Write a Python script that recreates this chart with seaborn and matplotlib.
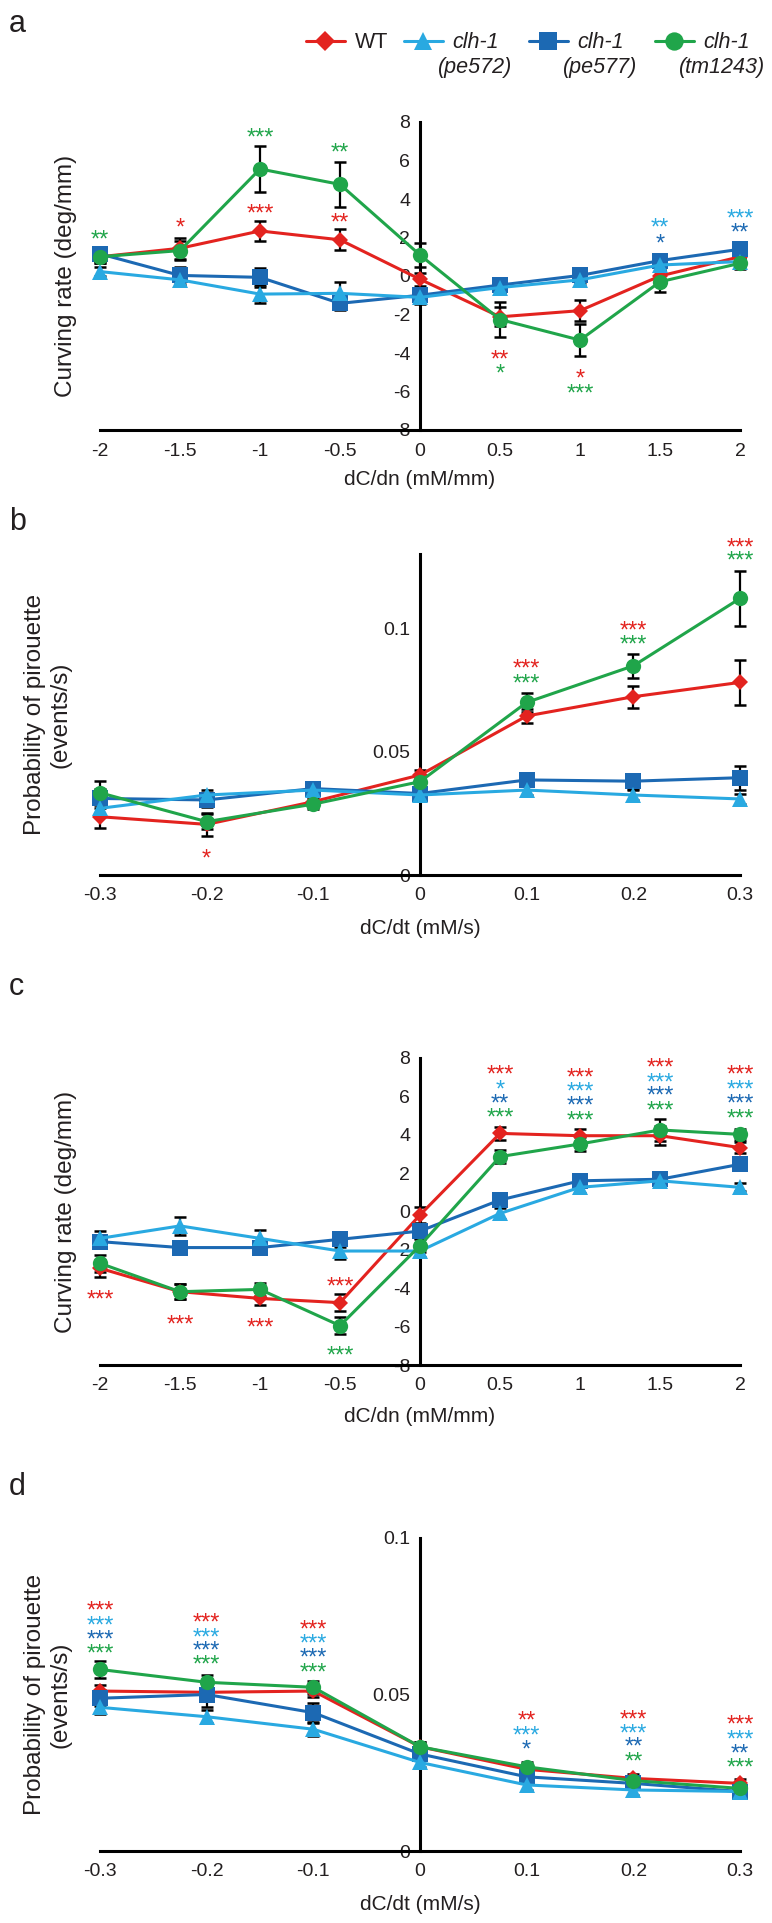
import numpy as np
import pandas as pd
import seaborn as sns
import matplotlib.pyplot as plt

strains = ["WT", "clh-1 (pe572)", "clh-1 (pe577)", "clh-1 (tm1243)"]
colors = ["#E3231F", "#29A9E1", "#1C69B3", "#20A54A"]
markers = ["D", "^", "s", "o"]

dcdn = [-2, -1.5, -1, -0.5, 0, 0.5, 1, 1.5, 2]
dcdn_labels = ["-2", "-1.5", "-1", "-0.5", "0", "0.5", "1", "1.5", "2"]
dcdt = [-0.3, -0.2, -0.1, 0, 0.1, 0.2, 0.3]
dcdt_labels = ["-0.3", "-0.2", "-0.1", "0", "0.1", "0.2", "0.3"]
curv_ticks = [-8, -6, -4, -2, 0, 2, 4, 6, 8]
curv_labels = ["-8", "-6", "-4", "-2", "0", "2", "4", "6", "8"]
prob_ticks = [0, 0.05, 0.1]
prob_labels = ["0", "0.05", "0.1"]

# panel a: curving rate vs dC/dn
a_wt = [1.0, 1.44, 2.34, 1.88, -0.17, -2.12, -1.8, 0.0, 1.0]
a_pe572 = [0.23, -0.2, -0.94, -0.9, -1.11, -0.6, -0.2, 0.57, 0.75]
a_pe577 = [1.15, 0.03, -0.07, -1.42, -1.0, -0.47, 0.03, 0.8, 1.39]
a_tm = [1.0, 1.32, 5.56, 4.76, 1.09, -2.26, -3.33, -0.3, 0.66]
a_wt_err = [0.3, 0.55, 0.5, 0.55, 0.35, 0.5, 0.55, 0.35, 0.3]
a_pe572_err = [0.25, 0.3, 0.45, 0.6, 0.35, 0.3, 0.3, 0.3, 0.2]
a_pe577_err = [0.35, 0.45, 0.5, 0.35, 0.35, 0.35, 0.4, 0.35, 0.3]
a_tm_err = [0.3, 0.5, 1.2, 1.16, 0.6, 0.9, 0.85, 0.55, 0.3]
a_star_x = [-2, -1.5, -1, -1, -0.5, -0.5, 0.5, 0.5, 1, 1, 1.5, 1.5, 2, 2]
a_star_y = [2.24, 2.83, 7.55, 3.58, 6.74, 3.13, -3.99, -4.72, -4.98, -5.76, 2.83, 2.05, 3.32, 2.57]
a_star_txt = ["**", "*", "***", "***", "**", "**", "**", "*", "*", "***", "**", "*", "***", "**"]
a_star_col = [3, 0, 3, 0, 3, 0, 0, 3, 0, 3, 1, 2, 1, 2]

# panel b: pirouette probability vs dC/dt
b_wt = [0.0236, 0.0205, 0.0297, 0.0405, 0.0644, 0.0722, 0.078]
b_pe572 = [0.027, 0.0324, 0.0344, 0.0324, 0.0344, 0.0324, 0.0308]
b_pe577 = [0.031, 0.0304, 0.035, 0.033, 0.0385, 0.038, 0.0394]
b_tm = [0.0333, 0.0216, 0.0287, 0.0378, 0.0699, 0.0847, 0.112]
b_wt_err = [0.0047, 0.0047, 0.002, 0.002, 0.003, 0.0045, 0.0092]
b_pe572_err = [0.003, 0.002, 0.002, 0.002, 0.002, 0.002, 0.002]
b_pe577_err = [0.004, 0.003, 0.002, 0.002, 0.002, 0.003, 0.0048]
b_tm_err = [0.0047, 0.003, 0.002, 0.002, 0.0037, 0.005, 0.0113]
b_star_x = [-0.2, 0.1, 0.1, 0.2, 0.2, 0.3, 0.3]
b_star_y = [0.0094, 0.0861, 0.0803, 0.1016, 0.0958, 0.1354, 0.13]
b_star_txt = ["*", "***", "***", "***", "***", "***", "***"]
b_star_col = [0, 0, 3, 0, 3, 0, 3]

# panel c: curving rate vs dC/dn
c_wt = [-2.96, -4.18, -4.53, -4.75, -0.18, 4.07, 3.95, 3.95, 3.33]
c_pe572 = [-1.4, -0.75, -1.4, -2.06, -2.06, -0.1, 1.26, 1.6, 1.26]
c_pe577 = [-1.57, -1.88, -1.88, -1.45, -1.02, 0.6, 1.6, 1.68, 2.46]
c_tm = [-2.7, -4.18, -4.06, -5.95, -1.78, 2.86, 3.52, 4.25, 4.02]
c_wt_err = [0.45, 0.4, 0.35, 0.45, 0.4, 0.35, 0.35, 0.5, 0.3]
c_pe572_err = [0.4, 0.45, 0.45, 0.4, 0.3, 0.3, 0.3, 0.3, 0.2]
c_pe577_err = [0.3, 0.35, 0.35, 0.4, 0.35, 0.3, 0.3, 0.3, 0.25]
c_tm_err = [0.45, 0.4, 0.35, 0.45, 0.35, 0.35, 0.35, 0.55, 0.3]
c_star_x = [-2, -1.5, -1, -0.5, -0.5,
            0.5, 0.5, 0.5, 0.5, 1, 1, 1, 1,
            1.5, 1.5, 1.5, 1.5, 2, 2, 2, 2]
c_star_y = [-4.26, -5.57, -5.71, -3.57, -7.17,
            7.46, 6.68, 5.98, 5.24, 7.32, 6.6, 5.85, 5.08,
            7.84, 7.08, 6.37, 5.6, 7.46, 6.72, 5.98, 5.2]
c_star_txt = ["***", "***", "***", "***", "***",
              "***", "*", "**", "***", "***", "***", "***", "***",
              "***", "***", "***", "***", "***", "***", "***", "***"]
c_star_col = [0, 0, 0, 0, 3,
              0, 1, 2, 3, 0, 1, 2, 3,
              0, 1, 2, 3, 0, 1, 2, 3]

# panel d: pirouette probability vs dC/dt
d_wt = [0.0511, 0.0507, 0.0511, 0.0333, 0.0261, 0.0232, 0.0216]
d_pe572 = [0.0459, 0.0429, 0.0389, 0.0283, 0.0211, 0.0195, 0.019]
d_pe577 = [0.0488, 0.05, 0.0442, 0.031, 0.0237, 0.0216, 0.019]
d_tm = [0.058, 0.0539, 0.0523, 0.0333, 0.0269, 0.0225, 0.02]
d_wt_err = [0.002, 0.002, 0.002, 0.0015, 0.0015, 0.0015, 0.0015]
d_pe572_err = [0.002, 0.002, 0.002, 0.0015, 0.0015, 0.0015, 0.0015]
d_pe577_err = [0.0025, 0.004, 0.003, 0.0015, 0.0015, 0.0015, 0.0015]
d_tm_err = [0.0027, 0.0022, 0.002, 0.0015, 0.0015, 0.0015, 0.0015]
d_star_x = [-0.3, -0.3, -0.3, -0.3, -0.2, -0.2, -0.2, -0.2,
            -0.1, -0.1, -0.1, -0.1, 0.1, 0.1, 0.1,
            0.2, 0.2, 0.2, 0.2, 0.3, 0.3, 0.3, 0.3]
d_star_y = [0.0789, 0.0741, 0.0695, 0.0651, 0.0752, 0.0704, 0.066, 0.0616,
            0.0729, 0.0683, 0.0639, 0.0592, 0.0437, 0.0389, 0.0344,
            0.0442, 0.0397, 0.0353, 0.0307, 0.0426, 0.0378, 0.0333, 0.0288]
d_star_txt = ["***", "***", "***", "***", "***", "***", "***", "***",
              "***", "***", "***", "***", "**", "***", "*",
              "***", "***", "**", "**", "***", "***", "**", "***"]
d_star_col = [0, 1, 2, 3, 0, 1, 2, 3,
              0, 1, 2, 3, 0, 1, 2,
              0, 1, 2, 3, 0, 1, 2, 3]

sns.set_style("white")
plt.rcParams["font.family"] = ["Liberation Sans", "DejaVu Sans"]
plt.rcParams["axes.unicode_minus"] = False

W, H = 772, 1923
fig = plt.figure(figsize=(W / 100, H / 100), dpi=100)
fig.patch.set_facecolor("white")

zorders = [3.0, 3.2, 3.1, 3.3]


def draw_panel(rect, x, means, errs, xlim, ylim, xt, xtl, yt, ytl, xlabel, ylabel,
               stars, ylabel_x, xlabel_off):
    ax = fig.add_axes(rect)
    rows = []
    for s, m in zip(strains, means):
        for xv, yv in zip(x, m):
            rows.append({"x": xv, "y": yv, "strain": s})
    df = pd.DataFrame(rows)
    sns.lineplot(data=df, x="x", y="y", hue="strain", style="strain",
                 hue_order=strains, style_order=strains,
                 palette=dict(zip(strains, colors)),
                 markers=dict(zip(strains, markers)), dashes=False,
                 linewidth=2.2, markeredgewidth=0, errorbar=None,
                 sort=False, legend=False, ax=ax)
    lines = list(ax.lines)
    for ln, z in zip(lines, zorders):
        ln.set_zorder(z)
        ln.set_clip_on(False)
        ln.set_markersize(8.2 if ln.get_marker() == "D" else 11)
    for m, e in zip(means, errs):
        eb = ax.errorbar(x, m, yerr=e, fmt="none", ecolor="black", elinewidth=1.6,
                         capsize=4.5, capthick=1.8, zorder=2.9)
        for art in eb.lines[1] + eb.lines[2]:
            art.set_clip_on(False)
    # significance stars, coloured by strain
    sx, sy, st, sc = stars
    for a, b, t, c in zip(sx, sy, st, sc):
        ax.annotate(t, (a, b), xytext=(0, -5.4), textcoords="offset points",
                    ha="center", va="center", color=colors[c], fontsize=17,
                    annotation_clip=False)
    ax.set_xlim(*xlim)
    ax.set_ylim(*ylim)
    ax.spines["left"].set_position(("data", 0))
    ax.spines["top"].set_visible(False)
    ax.spines["right"].set_visible(False)
    for sp in ["left", "bottom"]:
        ax.spines[sp].set_linewidth(2.2)
        ax.spines[sp].set_color("black")
    ax.set_xticks(xt)
    ax.set_xticklabels(xtl)
    ax.set_yticks(yt)
    ax.set_yticklabels(ytl)
    ax.tick_params(axis="both", direction="out", length=5, width=1.9,
                   color="black", labelsize=14, labelcolor="#231F20")
    ax.tick_params(axis="x", pad=4)
    ax.tick_params(axis="y", pad=2)
    ax.set_xlabel(xlabel, fontsize=15, color="#231F20")
    ax.set_ylabel(ylabel, fontsize=17.5, color="#231F20")
    ax.yaxis.set_label_coords(ylabel_x, 0.5)
    ax.xaxis.set_label_coords(0.5, xlabel_off)
    ax.set_facecolor("none")
    return ax, lines


left = 100 / W
width = 640 / W


def rect(top_px, bottom_px):
    return [left, 1 - bottom_px / H, width, (bottom_px - top_px) / H]


ax_a, handles = draw_panel(rect(122, 430), dcdn, [a_wt, a_pe572, a_pe577, a_tm],
                           [a_wt_err, a_pe572_err, a_pe577_err, a_tm_err],
                           (-2, 2), (-8, 8), dcdn, dcdn_labels, curv_ticks, curv_labels,
                           "dC/dn (mM/mm)", "Curving rate (deg/mm)",
                           (a_star_x, a_star_y, a_star_txt, a_star_col), -0.036, -40 / 308)
draw_panel(rect(554, 875), dcdt, [b_wt, b_pe572, b_pe577, b_tm],
           [b_wt_err, b_pe572_err, b_pe577_err, b_tm_err],
           (-0.3, 0.3), (0, 0.13), dcdt, dcdt_labels, prob_ticks, prob_labels,
           "dC/dt (mM/s)", "Probability of pirouette\n(events/s)",
           (b_star_x, b_star_y, b_star_txt, b_star_col), -0.044, -44 / 321)
draw_panel(rect(1058, 1365), dcdn, [c_wt, c_pe572, c_pe577, c_tm],
           [c_wt_err, c_pe572_err, c_pe577_err, c_tm_err],
           (-2, 2), (-8, 8), dcdn, dcdn_labels, curv_ticks, curv_labels,
           "dC/dn (mM/mm)", "Curving rate (deg/mm)",
           (c_star_x, c_star_y, c_star_txt, c_star_col), -0.036, -42 / 307)
draw_panel(rect(1538, 1851), dcdt, [d_wt, d_pe572, d_pe577, d_tm],
           [d_wt_err, d_pe572_err, d_pe577_err, d_tm_err],
           (-0.3, 0.3), (0, 0.1), dcdt, dcdt_labels, prob_ticks, prob_labels,
           "dC/dt (mM/s)", "Probability of pirouette\n(events/s)",
           (d_star_x, d_star_y, d_star_txt, d_star_col), -0.044, -44 / 313)

# panel letters
for letter, base in zip(["a", "b", "c", "d"], [32, 530, 995, 1495]):
    fig.text(9 / W, 1 - base / H, letter, fontsize=22, va="baseline", ha="left",
             color="#231F20")

# legend: one entry per column, second line of the mutant names below
leg_x = [306, 404, 529, 655]
leg_first = ["WT", "clh-1", "clh-1", "clh-1"]
leg_second = ["", "(pe572)", "(pe577)", "(tm1243)"]
leg_second_x = [0, 475, 600, 722]
for i, h in enumerate(handles):
    prop = {"size": 15.5}
    if i > 0:
        prop["style"] = "italic"
    fig.legend([h], [leg_first[i]], loc="center left",
               bbox_to_anchor=(leg_x[i] / W, 1 - 43 / H), frameon=False,
               borderpad=0, borderaxespad=0, handlelength=1.8, handletextpad=0.45,
               markerscale=1.2, prop=prop, labelcolor="#231F20")
    if leg_second[i]:
        fig.text(leg_second_x[i] / W, 1 - 68 / H, leg_second[i], fontsize=15.5,
                 style="italic", ha="center", va="center", color="#231F20")

fig.savefig("out.png", dpi=100, facecolor="white")
